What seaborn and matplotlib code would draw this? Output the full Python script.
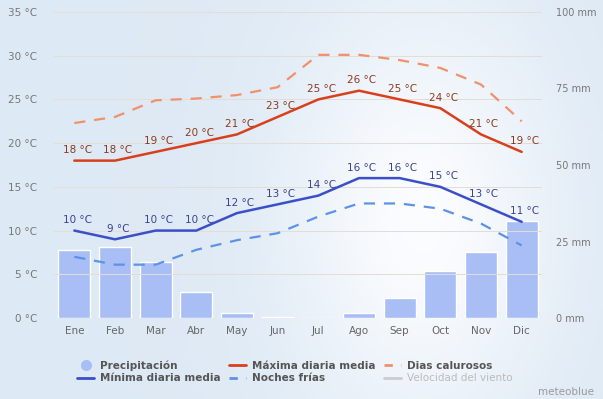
import numpy as np
import pandas as pd
import matplotlib
matplotlib.use("Agg")
import matplotlib.pyplot as plt
from matplotlib.lines import Line2D
import seaborn as sns

months = ["Ene", "Feb", "Mar", "Abr", "May", "Jun", "Jul", "Ago", "Sep", "Oct", "Nov", "Dic"]
precip_mm = [22.3, 23.3, 18.4, 8.5, 1.5, 0.4, 0.0, 1.5, 6.5, 15.4, 21.6, 31.6]
max_temp = [18, 18, 19, 20, 21, 23, 25, 26, 25, 24, 21, 19]
min_temp = [10, 9, 10, 10, 12, 13, 14, 16, 16, 15, 13, 11]
hot_days = [22.3, 23.0, 24.9, 25.1, 25.5, 26.4, 30.1, 30.1, 29.5, 28.6, 26.7, 22.5]
cold_nights = [7.0, 6.1, 6.1, 7.8, 8.9, 9.7, 11.6, 13.1, 13.1, 12.5, 10.8, 8.3]
temp_ticks = [0, 5, 10, 15, 20, 25, 30, 35]
mm_ticks = [0, 25, 50, 75, 100]

sns.set_theme(style="white")
plt.rcParams["font.family"] = ["DejaVu Sans"]

W, H = 603, 399
fig = plt.figure(figsize=(W / 100, H / 100), dpi=100)

# background gradient
bg = fig.add_axes([0, 0, 1, 1], zorder=-10)
gx = np.linspace(0, 1, 200)
gy = np.linspace(0, 1, 100)
GX, GY = np.meshgrid(gx, gy)
t = np.clip(np.exp(-((GX - 0.7) ** 2) / 0.05 - ((GY - 0.45) ** 2) / 0.3), 0, 1)
c0 = np.array([0.870, 0.915, 0.960])
c1 = np.array([0.985, 0.990, 0.998])
img = c0[None, None, :] * (1 - t[..., None]) + c1[None, None, :] * t[..., None]
bg.imshow(img, aspect="auto", extent=[0, 1, 0, 1], origin="lower")
bg.axis("off")

x0, x1 = 54 / W, 542 / W
y_bot, y_top = 1 - 318 / H, 1 - 12 / H
ax = fig.add_axes([x0, y_bot, x1 - x0, y_top - y_bot])
ax.patch.set_alpha(0)
pos = np.arange(len(months))

df_p = pd.DataFrame({"pos": pos, "mm": precip_mm})
sns.barplot(data=df_p, x="pos", y="mm", ax=ax, color="#a9bef5", saturation=1,
            width=0.79, native_scale=True)
ax.set_ylim(0, 100)
ax.set_xlim(-0.5, 11.5)
ax.set_xticks(pos)
ax.set_xticklabels(months, color="#666666", fontsize=7.5)
ax.tick_params(axis="x", length=0, pad=6)
ax.set_xlabel("")
ax.set_ylabel("")
for s in ax.spines.values():
    s.set_visible(False)

ax2 = ax.twinx()
ax2.set_ylim(0, 35)
ax2.set_xlim(-0.5, 11.5)
for s in ax2.spines.values():
    s.set_visible(False)

# right axis: precipitation (mm)
ax.yaxis.tick_right()
ax.yaxis.set_label_position("right")
ax.set_yticks(mm_ticks)
ax.set_yticklabels([f"{v} mm" for v in mm_ticks], color="#777777", fontsize=7)
ax.tick_params(axis="y", which="both", left=False, right=False, labelleft=False,
               labelright=True, length=0, pad=10)
# left axis: temperature
ax2.yaxis.tick_left()
ax2.yaxis.set_label_position("left")
ax2.set_yticks(temp_ticks)
ax2.set_yticklabels([f"{v} °C" for v in temp_ticks], color="#777777", fontsize=7.5)
ax2.tick_params(axis="y", which="both", left=False, right=False, labelleft=True,
                labelright=False, length=0, pad=12)

for v in temp_ticks:
    ax2.axhline(v, color="#e4ddd6", lw=0.7, zorder=0)

df = pd.DataFrame({"pos": pos, "max": max_temp, "min": min_temp,
                   "hot": hot_days, "cold": cold_nights})
sns.lineplot(data=df, x="pos", y="hot", ax=ax2, color="#f0916c", lw=1.6)
ax2.lines[-1].set_dashes([5, 4])
sns.lineplot(data=df, x="pos", y="cold", ax=ax2, color="#5c92e8", lw=1.6)
ax2.lines[-1].set_dashes([5, 4])
sns.lineplot(data=df, x="pos", y="max", ax=ax2, color="#d8401c", lw=1.8)
sns.lineplot(data=df, x="pos", y="min", ax=ax2, color="#3a4fc8", lw=1.8)
ax2.set_xlabel("")
ax2.set_ylabel("")

for i, v in enumerate(max_temp):
    ax2.annotate(f"{v} °C", (i, v), xytext=(2, 4), textcoords="offset points",
                 ha="center", va="bottom", fontsize=7.5, color="#8a3b1e")
for i, v in enumerate(min_temp):
    ax2.annotate(f"{v} °C", (i, v), xytext=(2, 4), textcoords="offset points",
                 ha="center", va="bottom", fontsize=7.5, color="#3b428f")

handles = [
    Line2D([], [], marker="o", ls="none", color="#a9bef5", markersize=7),
    Line2D([], [], color="#3a4fc8", lw=2),
    Line2D([], [], color="#d8401c", lw=2),
    Line2D([], [], color="#5c92e8", lw=2, dashes=[3, 3]),
    Line2D([], [], color="#f0916c", lw=2, dashes=[3, 3]),
    Line2D([], [], color="#cccccc", lw=2),
]
labels = ["Precipitación", "Mínima diaria media", "Máxima diaria media",
          "Noches frías", "Dias calurosos", "Velocidad del viento"]
leg = fig.legend(handles, labels, ncol=3, loc="upper left",
                 bbox_to_anchor=(68 / W, 1 - 351 / H), frameon=False,
                 prop={"size": 7.5, "weight": "bold"}, handlelength=1.6,
                 handletextpad=0.6, columnspacing=0.8, labelspacing=0.25)
for txt in leg.get_texts():
    txt.set_color("#555555")
leg.get_texts()[-1].set_color("#bbbbbb")
leg.get_texts()[-1].set_fontweight("normal")

fig.text(566 / W, 1 - 392 / H, "meteoblue", fontsize=7.5, color="#999999",
         ha="center", va="center")

fig.savefig("out.png", dpi=100)
